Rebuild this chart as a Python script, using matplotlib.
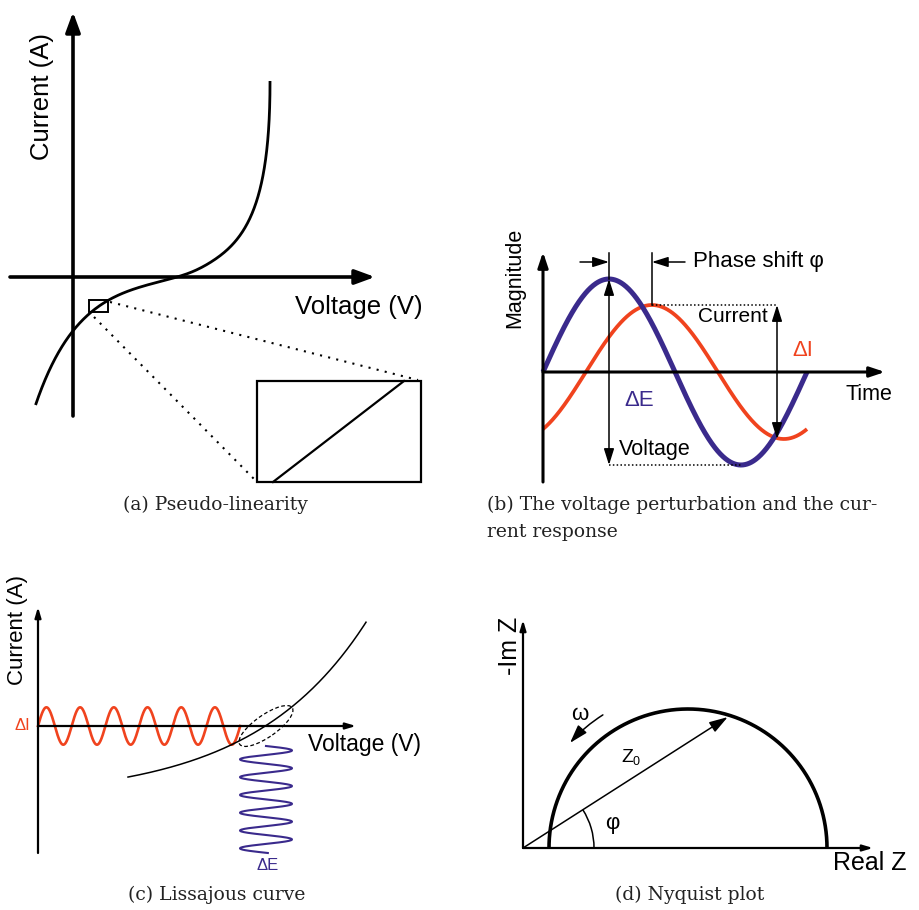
import numpy as np
import matplotlib
matplotlib.use('Agg')
import matplotlib.pyplot as plt
from matplotlib.patches import Rectangle, Ellipse, Arc

W, H = 919, 910
fig = plt.figure(figsize=(W / 100, H / 100), dpi=100)

SANS = ['Liberation Sans', 'DejaVu Sans']
SERIF = ['DejaVu Serif']
BLUE = '#3a2a8c'
RED = '#f0431e'

# ---------------- data / model parameters ----------------
# (a) pseudo-linear current-voltage curve
a_current = np.linspace(-128, 196, 500)
a_E0 = 104.0
a_p_anodic, a_q_anodic, a_s_anodic = 41.1, 15.0, 0.21
a_p_cathodic, a_q_cathodic = 43.6, 10.0
a_blend = 10.0
# (b) voltage perturbation and current response
b_time = np.linspace(0, 264, 500)
b_period = 264.0
b_amp_voltage = 93.0
b_amp_current = 67.0
b_phase = 1.02
# (c) Lissajous
c_curve_v = np.linspace(90, 328, 300)
c_curve_offset, c_curve_scale, c_curve_k = -72.8, 9.85, 0.0088
c_red_v = np.linspace(0, 202.2, 600)
c_red_amp, c_red_period = 18.7, 33.7
c_blue_i = np.linspace(-20, -127, 600)
c_blue_amp, c_blue_period, c_blue_center = 26.0, 17.8, 228.0
# (d) Nyquist
d_center, d_radius = 165.0, 139.0
d_theta = np.linspace(0, np.pi, 400)
d_phi_deg = 32.6
d_vector_len = 243.0


def panel(left, top, right, bottom, ox, oy):
    ax = fig.add_axes([left / W, 1 - bottom / H, (right - left) / W, (bottom - top) / H])
    ax.set_xlim(left - ox, right - ox)
    ax.set_ylim(oy - bottom, oy - top)
    ax.axis('off')
    return ax


def arrow(ax, tail, tip, lw=1.0, style='-|>', hl=0.5, hw=0.2, ms=20, color='k'):
    ax.annotate('', xy=tip, xytext=tail,
                arrowprops=dict(arrowstyle=f'{style},head_length={hl},head_width={hw}',
                                lw=lw, color=color, shrinkA=0, shrinkB=0,
                                mutation_scale=ms))


# ---------------- panel (a) ----------------
ax = panel(0, 0, 460, 520, 73, 277)
arrow(ax, (0, -139), (0, 265), lw=2.6, hl=0.6, hw=0.22, ms=20)
arrow(ax, (-63, 0), (302, 0), lw=2.6, hl=0.6, hw=0.22, ms=20)
f_an = a_p_anodic * np.arcsinh(a_current / a_q_anodic) - a_s_anodic * a_current
f_cat = a_p_cathodic * np.arcsinh(a_current / a_q_cathodic)
wgt = 0.5 * (1 + np.tanh(a_current / a_blend))
a_voltage = a_E0 + wgt * f_an + (1 - wgt) * f_cat
ax.plot(a_voltage, a_current, color='k', lw=2.0, solid_capstyle='butt')
ax.add_patch(Rectangle((16, -35), 19, 12, fill=False, lw=1.4, ec='k'))
ax.add_patch(Rectangle((184, -205), 164, 101, fill=False, lw=1.6, ec='k'))
ax.plot([200, 331], [-205, -104], color='k', lw=1.6)
ax.plot([37, 345], [-25, -103], color='k', lw=1.5, ls=(0, (1, 3)))
ax.plot([21, 184], [-40, -205], color='k', lw=1.5, ls=(0, (1, 3)))
ax.text(-31, 180, 'Current (A)', rotation=90, ha='center', va='center',
        fontsize=18.5, family=SANS)
ax.text(286, -30, 'Voltage (V)', ha='center', va='center', fontsize=18.5, family=SANS)

# ---------------- panel (b) ----------------
ax = panel(465, 220, 919, 490, 543, 372)
arrow(ax, (0, -110), (0, 120), lw=2.2, hl=0.6, hw=0.2, ms=15)
arrow(ax, (0, 0), (342, 0), lw=2.2, hl=0.6, hw=0.2, ms=15)
w = 2 * np.pi / b_period
b_voltage = b_amp_voltage * np.sin(w * b_time)
b_current = b_amp_current * np.sin(w * b_time - b_phase)
ax.plot(b_time, b_current, color=RED, lw=2.7, solid_capstyle='butt')
ax.plot(b_time, b_voltage, color=BLUE, lw=3.6, solid_capstyle='butt')
t_vpeak = b_period / 4
t_ipeak = t_vpeak + b_phase / w
t_arrow_i = 234
ax.plot([t_vpeak, t_vpeak], [b_amp_voltage, 119], color='k', lw=1.1)
ax.plot([t_ipeak, t_ipeak], [b_amp_current, 119], color='k', lw=1.1)
arrow(ax, (t_vpeak, 0), (t_vpeak, b_amp_voltage), lw=1.1, hl=0.7, hw=0.22, ms=14)
arrow(ax, (t_vpeak, 0), (t_vpeak, -b_amp_voltage), lw=1.1, hl=0.7, hw=0.22, ms=14)
arrow(ax, (t_arrow_i, 0), (t_arrow_i, b_amp_current), lw=1.1, hl=0.7, hw=0.22, ms=14)
arrow(ax, (t_arrow_i, 0), (t_arrow_i, -b_amp_current), lw=1.1, hl=0.7, hw=0.22, ms=14)
arrow(ax, (37, 110), (t_vpeak, 110), lw=1.1, hl=0.7, hw=0.22, ms=14)
arrow(ax, (142, 110), (t_ipeak, 110), lw=1.1, hl=0.7, hw=0.22, ms=14)
ax.plot([t_ipeak, t_arrow_i], [b_amp_current] * 2, color='k', lw=1.1, ls=(0, (1, 1.5)))
ax.plot([t_vpeak, 3 * b_period / 4], [-b_amp_voltage] * 2, color='k', lw=1.1, ls=(0, (1, 1.5)))
ax.text(150, 110, 'Phase shift φ', ha='left', va='center', fontsize=16, family=SANS)
ax.text(190, 55, 'Current', ha='center', va='center', fontsize=15, family=SANS)
ax.text(260, 22, 'ΔI', ha='center', va='center', fontsize=16, family=SANS, color=RED)
ax.text(96, -29, 'ΔE', ha='center', va='center', fontsize=16, family=SANS, color=BLUE)
ax.text(112, -77, 'Voltage', ha='center', va='center', fontsize=15.5, family=SANS)
ax.text(326, -22, 'Time', ha='center', va='center', fontsize=15.5, family=SANS)
ax.text(-28, 94, 'Magnitude', rotation=90, ha='center', va='center', fontsize=15.5, family=SANS)

# ---------------- panel (c) ----------------
ax = panel(0, 560, 460, 910, 38, 726)
arrow(ax, (0, -127), (0, 119), lw=1.6, hl=0.5, hw=0.15, ms=12)
arrow(ax, (0, 0), (318, 0), lw=1.6, hl=0.5, hw=0.15, ms=12)
ax.plot(c_red_v, c_red_amp * np.sin(2 * np.pi * c_red_v / c_red_period),
        color=RED, lw=1.9)
ax.plot(c_curve_v, c_curve_offset + c_curve_scale * np.exp(c_curve_k * c_curve_v),
        color='k', lw=1.1)
ax.add_patch(Ellipse((c_blue_center, 0), 64, 22, angle=35, fill=False, ec='k',
                     lw=0.9, ls=(0, (3, 2))))
ax.plot(c_blue_center + c_blue_amp * np.sin(2 * np.pi * (-20 - c_blue_i) / c_blue_period),
        c_blue_i, color=BLUE, lw=1.5)
ax.text(-8, 0, 'ΔI', ha='right', va='center', fontsize=12, family=SANS, color=RED)
ax.text(230, -139, 'ΔE', ha='center', va='center', fontsize=12, family=SANS, color=BLUE)
ax.text(327, -18, 'Voltage (V)', ha='center', va='center', fontsize=16.5, family=SANS)
ax.text(-20, 96, 'Current (A)', rotation=90, ha='center', va='center', fontsize=16, family=SANS)

# ---------------- panel (d) ----------------
ax = panel(470, 600, 919, 910, 523, 848)
arrow(ax, (0, 0), (0, 228), lw=1.6, hl=0.5, hw=0.15, ms=12)
arrow(ax, (0, 0), (350, 0), lw=1.6, hl=0.5, hw=0.15, ms=12)
ax.plot(d_center + d_radius * np.cos(d_theta), d_radius * np.sin(d_theta),
        color='k', lw=2.6, solid_capstyle='butt')
phi = np.deg2rad(d_phi_deg)
arrow(ax, (0, 0), (d_vector_len * np.cos(phi), d_vector_len * np.sin(phi)),
      lw=1.1, hl=0.8, hw=0.25, ms=14)
ax.add_patch(Arc((0, 0), 142, 142, theta1=0, theta2=d_phi_deg, lw=1.1, color='k'))
r_om = 158
p_a = (d_center + r_om * np.cos(np.deg2rad(122.6)), r_om * np.sin(np.deg2rad(122.6)))
p_b = (d_center + r_om * np.cos(np.deg2rad(138.3)), r_om * np.sin(np.deg2rad(138.3)))
ax.annotate('', xy=p_b, xytext=p_a,
            arrowprops=dict(arrowstyle='-|>,head_length=0.8,head_width=0.25', lw=1.1,
                            color='k', shrinkA=0, shrinkB=0, mutation_scale=14,
                            connectionstyle='arc3,rad=0.07'))
ax.text(89, 25, 'φ', ha='center', va='center', fontsize=16, family=SANS)
ax.text(104, 91, 'Z', ha='center', va='center', fontsize=14, family=SANS)
ax.text(113, 86, '0', ha='center', va='center', fontsize=9, family=SANS)
ax.text(57, 133, 'ω', ha='center', va='center', fontsize=16, family=SANS)
ax.text(-13, 202, '-Im Z', rotation=90, ha='center', va='center', fontsize=18, family=SANS)
ax.text(347, -15, 'Real Z', ha='center', va='center', fontsize=18, family=SANS)

# ---------------- captions ----------------
cap_fs = 13.5
cap_color = '#222222'
fig.text(215 / W, 1 - 505 / H, '(a) Pseudo-linearity', ha='center', va='center',
         fontsize=cap_fs, family=SERIF, color=cap_color)
fig.text(487 / W, 1 - 505 / H, '(b) The voltage perturbation and the cur-', ha='left',
         va='center', fontsize=cap_fs, family=SERIF, color=cap_color)
fig.text(487 / W, 1 - 532 / H, 'rent response', ha='left', va='center',
         fontsize=cap_fs, family=SERIF, color=cap_color)
fig.text(217 / W, 1 - 895 / H, '(c) Lissajous curve', ha='center', va='center',
         fontsize=cap_fs, family=SERIF, color=cap_color)
fig.text(690 / W, 1 - 895 / H, '(d) Nyquist plot', ha='center', va='center',
         fontsize=cap_fs, family=SERIF, color=cap_color)

fig.savefig('out.png', dpi=100, facecolor='white')
